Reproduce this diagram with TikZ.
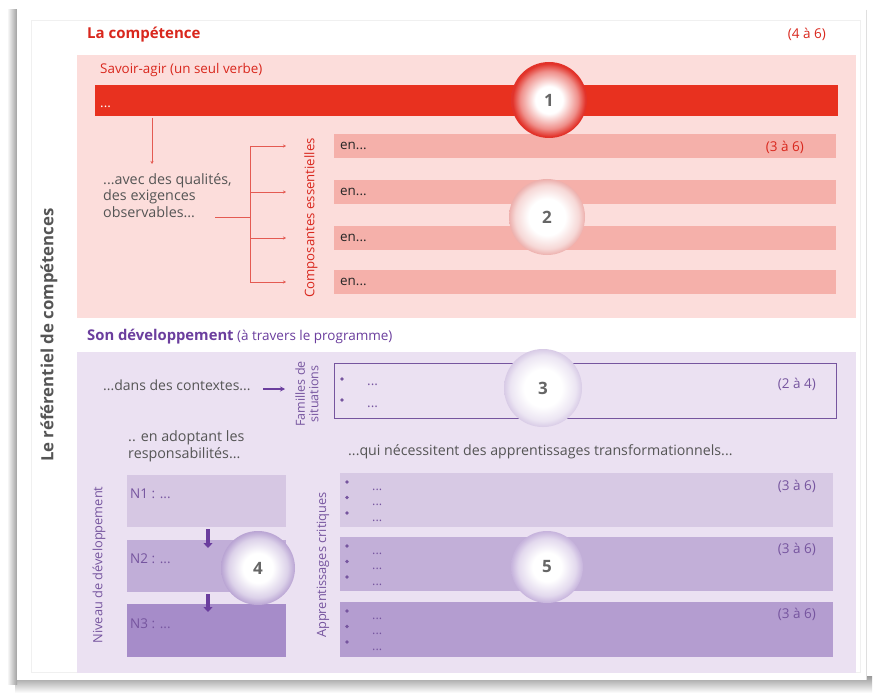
\documentclass[tikz,border=0pt]{standalone}
\usepackage{fontspec}
\setmainfont{Open Sans}
\usetikzlibrary{arrows.meta}
\definecolor{redT}{HTML}{D9271D}
\definecolor{redBar}{HTML}{E8311F}
\definecolor{pinkBg}{HTML}{FCDDDB}
\definecolor{salmon}{HTML}{F5B0AA}
\definecolor{redLine}{HTML}{E45A52}
\definecolor{purT}{HTML}{6B3E9E}
\definecolor{lavBg}{HTML}{EBE1F2}
\definecolor{purTx}{HTML}{76559F}
\definecolor{greyTx}{HTML}{555555}
\definecolor{nA}{HTML}{D6C7E3}
\definecolor{nB}{HTML}{C1AED8}
\definecolor{nC}{HTML}{A68CC9}
\definecolor{aA}{HTML}{D7C9E4}
\definecolor{aB}{HTML}{C2AFD8}
\definecolor{aC}{HTML}{B49DD0}
\definecolor{ballR}{HTML}{E2332A}
\definecolor{ballP}{HTML}{EDB0AD}
\definecolor{ballL}{HTML}{D8CBE6}
\definecolor{ballV}{HTML}{B9A4D3}
\definecolor{ballW}{HTML}{C6B3DC}
\pgfdeclareradialshading{shR}{\pgfpoint{0bp}{0bp}}{color(0bp)=(white);color(9bp)=(white);color(19bp)=(ballR!55!white);color(24bp)=(ballR);color(50bp)=(ballR)}
\pgfdeclareradialshading{shP}{\pgfpoint{0bp}{0bp}}{color(0bp)=(white);color(12bp)=(white);color(21bp)=(ballP!50!white);color(25bp)=(ballP);color(50bp)=(ballP)}
\pgfdeclareradialshading{shL}{\pgfpoint{0bp}{0bp}}{color(0bp)=(white);color(12bp)=(white);color(21bp)=(ballL!50!white);color(25bp)=(ballL);color(50bp)=(ballL)}
\pgfdeclareradialshading{shV}{\pgfpoint{0bp}{0bp}}{color(0bp)=(white);color(10bp)=(white);color(20bp)=(ballV!50!white);color(25bp)=(ballV);color(50bp)=(ballV)}
\pgfdeclareradialshading{shW}{\pgfpoint{0bp}{0bp}}{color(0bp)=(white);color(10bp)=(white);color(20bp)=(ballW!50!white);color(25bp)=(ballW);color(50bp)=(ballW)}
\begin{document}
\begin{tikzpicture}[x=1pt,y=-1pt,
  area/.style={inner sep=0pt, outer sep=0pt, anchor=north west},
  txt/.style={inner sep=0pt, anchor=base west, font=\fontsize{13.4}{15}\selectfont},
  small/.style={inner sep=0pt, anchor=base west, font=\fontsize{13.5}{14}\selectfont},
  rot/.style={inner sep=0pt, rotate=90, font=\fontsize{13.2}{14}\selectfont, align=center},
  ball/.style={circle, inner sep=0pt, font=\bfseries\fontsize{17}{17}\selectfont, text=greyTx!90},
  bul/.style={circle, fill=purTx, inner sep=0pt, minimum size=3.6pt},
  rline/.style={draw=redLine, line width=0.6pt, -{Stealth[length=3pt,width=3pt]}},
  narrow/.style={draw=purT, line width=3.5pt, -{Triangle[length=5pt,width=9pt]}}
]
\useasboundingbox (0,0) rectangle (875,695);
\fill[white] (0,0) rectangle (875,695);
% card and shadow
\shade[top color=gray!80, bottom color=white] (15,676) rectangle (872,693);
\shade[left color=white, right color=gray!75] (7,10) rectangle (17,684);
\fill[white] (17,8) rectangle (866,680);
\draw[gray!25] (866,10) -- (866,680);
\draw[gray!12] (31,20) rectangle (860,672);

% left title
\node[rot, font=\bfseries\fontsize{16.8}{17}\selectfont, text=greyTx] (title) at (49,335) {Le référentiel de compétences};

% ---------- La compétence ----------
\node[txt, font=\bfseries\fontsize{15}{16}\selectfont, text=redT] (lacomp) at (87,39) {La compétence};
\node[small, text=redT, anchor=base east] (n46) at (826,39) {(4 à 6)};
\node[area, fill=pinkBg, minimum width=779pt, minimum height=263pt] (pinkarea) at (77,55) {};
\node[txt, text=redT] (savoir) at (100,74) {Savoir-agir (un seul verbe)};
\node[area, fill=redBar, minimum width=743pt, minimum height=31pt] (redbar) at (95,85) {};
\node[txt, text=white] (dots1) at (100,108) {...};

\foreach \i/\y in {1/134,2/180,3/226,4/270}{
  \node[area, fill=salmon, minimum width=502pt, minimum height=24pt] (c\i) at (334,\y) {};
  \node[txt, text=black!85, anchor=west] (en\i) at ([xshift=6pt]c\i.west) {en...};
  \coordinate (t\i) at (250,\y+12);
  \coordinate (h\i) at (286,\y+12);
}
\node[small, text=redT, anchor=base east] (n36a) at (804,152) {(3 à 6)};

\node[txt, text=greyTx, align=left, anchor=north west, font=\fontsize{14.3}{16.5}\selectfont] (avec) at (103,173) {...avec des qualités,\\des exigences\\observables...};
\coordinate (avecend) at (215,217);
\coordinate (bar0) at (152,118);
\coordinate (bar0e) at (152,164);
\draw[rline] (bar0) -- (bar0e);
\draw[redLine, line width=0.6pt] (avecend) -- (t1 |- avecend);
\draw[redLine, line width=0.6pt] (t1) -- (t4);
\foreach \i in {1,...,4}{ \draw[rline] (t\i) -- (h\i); }
\node[rot, text=redT] (compo) at (311,218) {Composantes essentielles};

\node[ball, shading=shR, minimum size=76pt] (b1) at (549,100) {1};
\node[ball, shading=shP, minimum size=76pt] (b2) at (547,217) {2};

% ---------- Son developpement ----------
\node[txt, font=\fontsize{13.5}{15}\selectfont, text=purT] (sondev) at (87,340) {\textbf{\fontsize{14.8}{15}\selectfont Son développement} (à travers le programme)};
\node[area, fill=lavBg, minimum width=779pt, minimum height=321pt] (lavarea) at (77,352) {};

\node[area, draw=purTx, line width=0.9pt, minimum width=502pt, minimum height=55pt] (fam) at (334,363) {};
\node[bul] (fb1) at (342,379) {};
\node[bul] (fb2) at (342,400) {};
\node[small, text=purTx] (fd1) at (367,385) {...};
\node[small, text=purTx] (fd2) at (367,407) {...};
\node[small, text=purTx, anchor=base east] (n24) at (816,388) {(2 à 4)};
\node[rot, font=\fontsize{12.5}{13.5}\selectfont, text=purTx] (famtxt) at (307,394) {Familles de\\situations};

\node[txt, text=greyTx, font=\fontsize{14}{15}\selectfont] (dans) at (103,390) {...dans des contextes...};
\coordinate (dansA) at (263,389);
\coordinate (dansB) at (285,389);
\draw[draw=purT, line width=1.2pt, -{Stealth[length=5pt,width=5pt]}] (dansA) -- (dansB);

\node[txt, text=greyTx, align=left, anchor=north west, font=\fontsize{14.3}{17}\selectfont] (adopt) at (128,430) {.. en adoptant les\\responsabilités...};
\node[txt, text=greyTx, font=\fontsize{14.2}{15}\selectfont] (qui) at (348,455) {...qui nécessitent des apprentissages transformationnels...};

% niveaux
\node[area, fill=nA, minimum width=159pt, minimum height=52pt] (N1) at (127,475) {};
\node[area, fill=nB, minimum width=159pt, minimum height=52pt] (N2) at (127,540) {};
\node[area, fill=nC, minimum width=159pt, minimum height=53pt] (N3) at (127,604) {};
\node[small, text=purTx, font=\fontsize{13.5}{14}\selectfont] (N1t) at (130,498) {N1 : ...};
\node[small, text=purTx, font=\fontsize{13.5}{14}\selectfont] (N2t) at (130,563) {N2 : ...};
\node[small, text=purTx, font=\fontsize{13.5}{14}\selectfont] (N3t) at (130,628) {N3 : ...};
\coordinate (ax) at (208,0);
\draw[narrow] ([yshift=-2pt]N1.south -| ax) -- ([yshift=-8pt]N2.north -| ax);
\draw[narrow] ([yshift=-2pt]N2.south -| ax) -- ([yshift=-8pt]N3.north -| ax);
\node[rot, font=\fontsize{12.8}{13}\selectfont, text=purTx] (niv) at (99,565) {Niveau de développement};

% apprentissages critiques
\node[area, fill=aA, minimum width=493pt, minimum height=54pt] (A1) at (340,473) {};
\node[area, fill=aB, minimum width=493pt, minimum height=54pt] (A2) at (340,537) {};
\node[area, fill=aC, minimum width=493pt, minimum height=55pt] (A3) at (340,602) {};
\foreach \k/\y in {1/482,2/546,3/611}{
  \foreach \j in {0,1,2}{
    \node[bul] (ab\k\j) at (347,\y+\j*15.5) {};
    \node[small, text=purTx, font=\fontsize{12.5}{13}\selectfont] (ad\k\j) at (372,\y+\j*15.5+8) {...};
  }
}
\node[small, text=purTx, anchor=base east] (n36b) at (816,490) {(3 à 6)};
\node[small, text=purTx, anchor=base east] (n36c) at (816,553) {(3 à 6)};
\node[small, text=purTx, anchor=base east] (n36d) at (816,618) {(3 à 6)};
\node[rot, font=\fontsize{12.8}{13}\selectfont, text=purTx] (appr) at (323,565) {Apprentissages critiques};

\node[ball, shading=shL, minimum size=78pt] (b3) at (543,388) {3};
\node[ball, shading=shV, minimum size=74pt] (b4) at (258,568) {4};
\node[ball, shading=shW, minimum size=72pt] (b5) at (547,567) {5};
\end{tikzpicture}
\end{document}
